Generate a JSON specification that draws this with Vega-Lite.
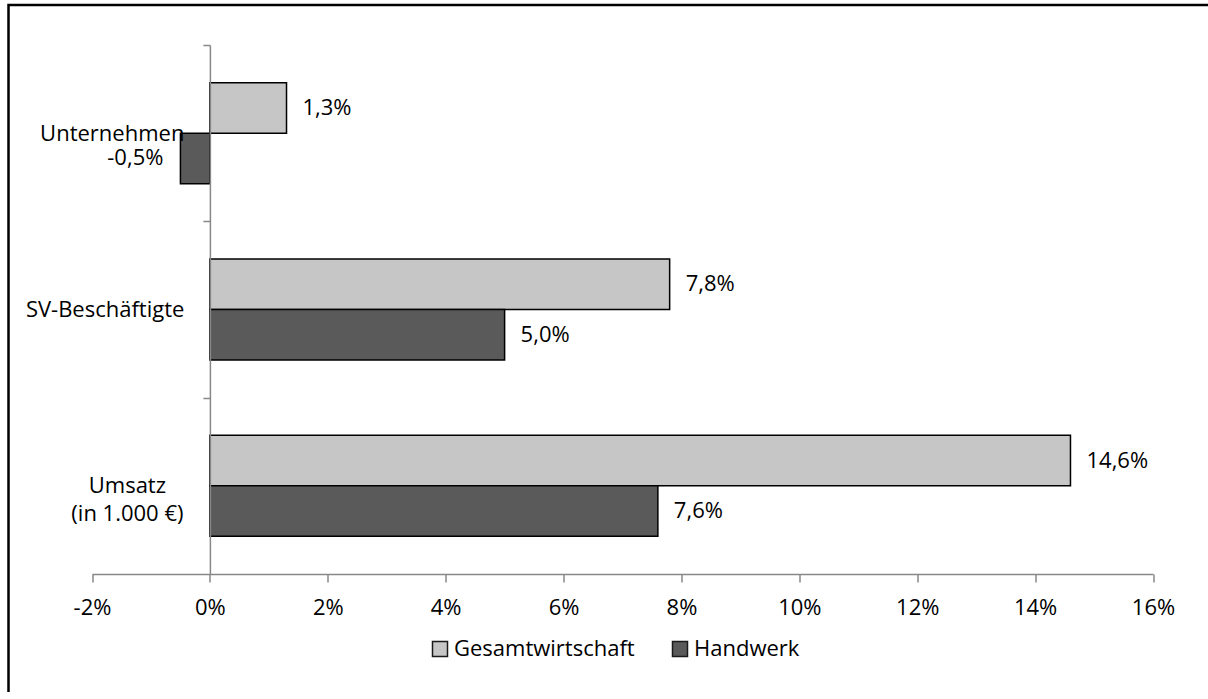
{
  "$schema": "https://vega.github.io/schema/vega-lite/v6.json",
  "width": 1199.5,
  "height": 687,
  "autosize": {"type": "none"},
  "padding": {"left": 8.5, "top": 5, "right": 0, "bottom": 0},
  "background": "white",
  "config": {
    "view": {"stroke": "black", "strokeWidth": 2.5, "strokeDash": [1199.5, 1886.5, 687]},
    "font": "Open Sans",
    "locale": {
      "number": {"decimal": ",", "thousands": ".", "grouping": [3], "currency": ["", " €"], "minus": "-"}
    },
    "text": {"font": "Open Sans", "fontSize": 22, "color": "black"}
  },
  "data": {
    "values": [
      {"kategorie": "Unternehmen", "reihe": "Gesamtwirtschaft", "wert": 0.013},
      {"kategorie": "Unternehmen", "reihe": "Handwerk", "wert": -0.005},
      {"kategorie": "SV-Beschäftigte", "reihe": "Gesamtwirtschaft", "wert": 0.078},
      {"kategorie": "SV-Beschäftigte", "reihe": "Handwerk", "wert": 0.050},
      {"kategorie": "Umsatz (in 1.000 €)", "reihe": "Gesamtwirtschaft", "wert": 0.146},
      {"kategorie": "Umsatz (in 1.000 €)", "reihe": "Handwerk", "wert": 0.076}
    ]
  },
  "encoding": {
    "y": {
      "field": "kategorie",
      "type": "nominal",
      "sort": ["Unternehmen", "SV-Beschäftigte", "Umsatz (in 1.000 €)"],
      "scale": {"range": [40, 569], "paddingInner": 0.427, "paddingOuter": 0.2135},
      "axis": {
        "title": null,
        "orient": "left",
        "offset": -201.4,
        "zindex": 1,
        "domainColor": "#888888",
        "domainWidth": 1.5,
        "tickColor": "#888888",
        "tickWidth": 1.5,
        "tickSize": 7,
        "tickOffset": -88.17,
        "labelOffset": 88.17,
        "labelFont": "Open Sans",
        "labelFontSize": 22,
        "labelColor": "black",
        "labelLimit": 0,
        "labelLineHeight": 28,
        "labelExpr": "datum.value == 'Umsatz (in 1.000 €)' ? ['Umsatz', '(in 1.000 €)'] : datum.label",
        "labelAlign": {"condition": {"test": "datum.value == 'Umsatz (in 1.000 €)'", "value": "center"}, "value": "right"},
        "labelPadding": {
          "condition": {"test": "datum.value == 'Umsatz (in 1.000 €)'", "value": 76},
          "value": 19
        }
      }
    },
    "yOffset": {
      "field": "reihe",
      "sort": ["Gesamtwirtschaft", "Handwerk"],
      "scale": {"paddingInner": 0, "paddingOuter": 0}
    },
    "x": {
      "field": "wert",
      "type": "quantitative",
      "scale": {"domain": [-0.02, 0.16], "range": [83.5, 1144.5], "nice": false, "zero": false},
      "axis": {
        "title": null,
        "orient": "bottom",
        "offset": -118,
        "zindex": 1,
        "grid": false,
        "values": [-0.02, 0, 0.02, 0.04, 0.06, 0.08, 0.1, 0.12, 0.14, 0.16],
        "format": ".0%",
        "domainColor": "#888888",
        "domainWidth": 1.5,
        "tickColor": "#888888",
        "tickWidth": 1.5,
        "tickSize": 8,
        "labelPadding": 15,
        "labelFont": "Open Sans",
        "labelFontSize": 22,
        "labelColor": "black",
        "labelFlush": false,
        "labelOverlap": false
      }
    }
  },
  "layer": [
    {
      "mark": {"type": "bar", "stroke": "black", "strokeWidth": 1.5},
      "encoding": {
        "x2": {"datum": 0},
        "color": {
          "field": "reihe",
          "type": "nominal",
          "sort": ["Gesamtwirtschaft", "Handwerk"],
          "scale": {"range": ["#C6C6C6", "#5A5A5A"]},
          "legend": {
            "title": null,
            "orient": "none",
            "legendX": 420.5,
            "legendY": 633,
            "direction": "horizontal",
            "symbolType": "square",
            "symbolSize": 225,
            "symbolStrokeColor": "#1a1a1a",
            "symbolStrokeWidth": 1.5,
            "symbolOpacity": 1,
            "labelFont": "Open Sans",
            "labelFontSize": 22,
            "labelColor": "black",
            "labelLimit": 0,
            "labelOffset": 3,
            "columnPadding": 34
          }
        }
      }
    },
    {
      "transform": [{"filter": "datum.wert >= 0"}],
      "mark": {"type": "text", "align": "left", "baseline": "middle", "dx": 16},
      "encoding": {"text": {"field": "wert", "type": "quantitative", "format": ".1%"}}
    },
    {
      "transform": [{"filter": "datum.wert < 0"}],
      "mark": {"type": "text", "align": "right", "baseline": "middle", "dx": -17},
      "encoding": {"text": {"field": "wert", "type": "quantitative", "format": ".1%"}}
    }
  ]
}
